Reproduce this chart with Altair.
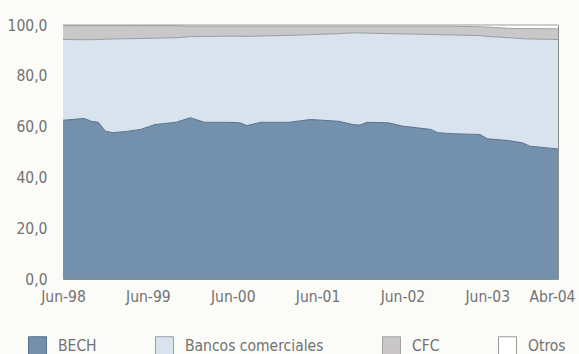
import altair as alt
import pandas as pd

# months since Jun-98 (0 = Jun-98, 70 = Abr-04)
months = [0, 3, 4, 5, 6, 7, 9, 11, 13, 16, 18, 20, 23, 25, 26, 28, 32, 35, 39, 41,
          42, 43, 46, 48, 52, 53, 55, 59, 60, 63, 65, 66, 70]
bech = [62.5, 63.2, 62.1, 61.7, 58.2, 57.6, 58.1, 58.9, 60.8, 61.7, 63.5, 61.7, 61.7,
        61.5, 60.4, 61.7, 61.7, 62.8, 62.1, 60.8, 60.6, 61.7, 61.5, 60.2, 58.9, 57.6,
        57.2, 56.9, 55.2, 54.5, 53.6, 52.3, 51.2]
bancos = [31.8, 31.0, 32.1, 32.6, 36.2, 36.9, 36.5, 35.8, 34.0, 33.3, 31.9, 33.8, 33.9,
          34.1, 35.1, 34.0, 34.2, 33.4, 34.5, 36.1, 36.3, 35.1, 35.1, 36.3, 37.4, 38.6,
          38.9, 38.9, 40.3, 40.5, 41.0, 42.2, 43.1]
cfc = [5.4, 5.5, 5.5, 5.4, 5.3, 5.2, 5.1, 5.0, 4.9, 4.7, 4.1, 4.0, 3.9, 3.9, 4.0, 3.8,
       3.6, 3.3, 2.9, 2.6, 2.6, 2.7, 2.9, 3.0, 3.2, 3.3, 3.4, 3.5, 3.7, 3.7, 4.0, 4.1, 4.2]
otros = [0.3, 0.3, 0.3, 0.3, 0.3, 0.3, 0.3, 0.3, 0.3, 0.3, 0.5, 0.5, 0.5, 0.5, 0.5, 0.5,
         0.5, 0.5, 0.5, 0.5, 0.5, 0.5, 0.5, 0.5, 0.5, 0.5, 0.5, 0.7, 0.8, 1.3, 1.4, 1.4, 1.5]

series_names = ["BECH", "Bancos comerciales", "CFC", "Otros"]
fill_colors = ["#7390ad", "#d8e3ee", "#c9c7c7", "#ffffff"]
line_colors = ["#56708b", "#9a9ea3", "#a3a3a3", "#9a9a9a"]
tick_months = [0, 12, 24, 36, 48, 60, 70]
tick_labels = ["Jun-98", "Jun-99", "Jun-00", "Jun-01", "Jun-02", "Jun-03", "Abr-04"]
y_ticks = [0, 20, 40, 60, 80, 100]

rows = []
for i, m in enumerate(months):
    for k, (name, vals) in enumerate(zip(series_names, [bech, bancos, cfc, otros])):
        rows.append({"m": m, "serie": name, "ord": k, "v": vals[i]})
df = pd.DataFrame(rows)

x_expr = "''"
for t, l in reversed(list(zip(tick_months, tick_labels))):
    x_expr = f"datum.value == {t} ? '{l}' : ({x_expr})"

FONT = "DejaVu Sans Condensed, Liberation Sans Narrow, sans-serif"
TEXT = "#727272"
FS = 15.5

base = alt.Chart(df).transform_stack(
    stack="v", groupby=["m"], as_=["y0", "y1"],
    sort=[alt.SortField("ord", order="ascending")]
)

x_enc = alt.X(
    "m:Q",
    scale=alt.Scale(domain=[0, 70], nice=False, zero=False),
    axis=alt.Axis(values=tick_months, labelExpr=x_expr, title=None, grid=False,
                  domain=False, ticks=False, tickSize=0, labelPadding=10,
                  labelFlush=False, labelOverlap=False, labelFont=FONT,
                  labelFontSize=FS, labelColor=TEXT,
                  labelOffset={"condition": {"test": "datum.value == 70", "value": -6},
                               "value": 0}),
)
y_enc = alt.Y(
    "y1:Q",
    scale=alt.Scale(domain=[0, 100], nice=False, zero=True),
    axis=alt.Axis(values=y_ticks,
                  labelExpr="replace(format(datum.value, '.1f'), '.', ',')",
                  title=None, grid=False, domain=False, ticks=False, tickSize=0,
                  labelPadding=16, labelFont=FONT, labelFontSize=FS,
                  labelColor=TEXT),
)

area = base.mark_area(interpolate="linear", opacity=1).encode(
    x=x_enc,
    y=y_enc,
    y2="y0:Q",
    color=alt.Color(
        "serie:N",
        scale=alt.Scale(domain=series_names, range=fill_colors),
        legend=alt.Legend(title=None, orient="none", legendX=-35, legendY=311,
                          direction="horizontal", symbolType="square",
                          symbolSize=324, symbolStrokeColor="#8a8a8a",
                          symbolStrokeWidth=1, symbolOpacity=1, labelFont=FONT,
                          labelFontSize=FS, labelColor=TEXT, labelOffset=11,
                          columnPadding=56, padding=0),
    ),
)

line = base.mark_line(interpolate="linear", strokeWidth=1).encode(
    x=x_enc,
    y=y_enc,
    stroke=alt.Stroke("serie:N",
                      scale=alt.Scale(domain=series_names, range=line_colors),
                      legend=None),
    detail="serie:N",
)

chart = alt.layer(area, line).properties(
    width=495, height=254,
    autosize=alt.AutoSizeParams(type="none"),
    padding={"left": 63, "top": 25, "right": 21, "bottom": 75},
    background="#fbfbf8",
).configure_view(stroke="#8e8e8e", strokeWidth=1)

chart.save("out.html", embed_options={"renderer": "svg", "actions": False})
